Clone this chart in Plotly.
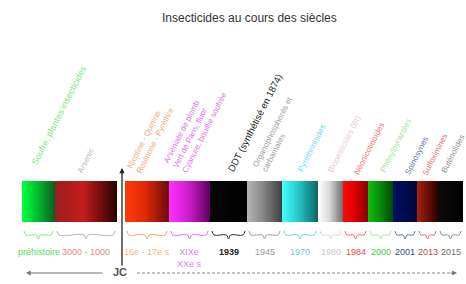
import numpy as np
import plotly.graph_objects as go

# ---------------- data ----------------
title = "Insecticides au cours des siècles"

seg_labels = [
    "Soufre, plantes insecticides",
    "Arsenic",
    "Nicotine - Quinine<br>Roténone - Pyrèthre",
    "Arséniate de plomb<br>Vert de Paris, fluor<br>Cyanure, bouillie soufrée",
    "DDT (synthétisé en 1874)",
    "Organophosphorés et<br>carbamates",
    "Pyréthrinoïdes",
    "Biopesticides (Bt)",
    "Néonicotinoïdes",
    "Phénylpyrazoles",
    "Spinosynes",
    "Sulfoximines",
    "Buténolides",
]
seg_years = [
    "préhistoire", "3000 - 1000", "16e - 17e s", "XIXe<br>XXe s", "<b>1939</b>",
    "1945", "1970", "1980", "1984", "2000", "2001", "2013", "2015",
]
seg_start = [22, 55, 125, 169, 210, 247, 282, 318, 343, 368, 393, 417, 438]
seg_end = [55, 117, 169, 210, 247, 282, 318, 343, 368, 393, 417, 438, 463]
color_from = ["#00ff3c", "#9a1e1e", "#ff3a08", "#ff30ff", "#080808", "#b4b4b4", "#40ffff",
              "#ffffff", "#ff0a0a", "#0cc00c", "#001064", "#a82214", "#0c0c0c"]
color_mid = ["#00c030", "#c41c1c", "#e02a08", "#d020d0", "#040404", "#888888", "#28c8c8",
             "#d8d8d8", "#e00000", "#089008", "#000c50", "#701208", "#060606"]
color_to = ["#0b5e1e", "#2b0202", "#6e0a0a", "#600060", "#000000", "#404040", "#0e6868",
            "#707070", "#8a0000", "#064806", "#000838", "#300000", "#000000"]
label_colors = ["#80e880", "#b8b8b8", "#f0a878", "#e070e8", "#222222", "#a0a0a0", "#70d8ea",
                "#e8cccc", "#f07070", "#a8e0a8", "#6070a0", "#e07070", "#909090"]
year_colors = ["#55dd55", "#e08888", "#f0b888", "#e080e8", "#222222", "#999999", "#66ccdd",
               "#c8c8c8", "#ee4444", "#44cc44", "#334488", "#b05050", "#707070"]

# layout helpers (annotation placement, in pixel-like chart units)
label_dx = [5, 18, -2, -10, 13, 1, 11, 5, 7, 8, 7, 1, -1]
label_bottom = [169, 177, 177, 177, 176, 176, 176, 177, 179, 177, 179, 179, 177]
label_size = [9, 8, 8, 8, 9.5, 8, 8, 8, 8, 8, 8, 8, 8]

BAR_TOP, BAR_BOT = 181, 222

fig = go.Figure()

# gradient segments
for i in range(len(seg_start)):
    n = 40
    xs = np.linspace(seg_start[i], seg_end[i], n + 1)
    z = [list(np.linspace(0, 1, n))]
    fig.add_trace(go.Heatmap(
        x=xs, y=[BAR_TOP, BAR_BOT], z=z, zmin=0, zmax=1,
        colorscale=[[0, color_from[i]], [0.45, color_mid[i]], [1, color_to[i]]],
        showscale=False, hoverinfo="skip"))

# braces under each segment
for i in range(len(seg_start)):
    a, b = seg_start[i] + 2, seg_end[i] - 2
    c = (a + b) / 2
    bx = [a, a + 2, c - 2, c, c + 2, b - 2, b]
    by = [231, 235, 235, 239, 235, 235, 231]
    fig.add_trace(go.Scatter(x=bx, y=by, mode="lines",
                             line=dict(color=label_colors[i] if i != 4 else "#333333", width=1, shape="spline"),
                             hoverinfo="skip", showlegend=False))

# bottom dashed time line (after JC)
fig.add_trace(go.Scatter(x=[137, 452], y=[273, 273], mode="lines",
                         line=dict(color="#888888", width=1.2, dash="3px,2px"),
                         hoverinfo="skip", showlegend=False))

annotations = []
annotations.append(dict(x=249, y=18, text=title, showarrow=False, xref="x", yref="y",
                        font=dict(size=12, color="#333333")))

for i in range(len(seg_start)):
    annotations.append(dict(
        x=seg_start[i] + label_dx[i], y=label_bottom[i], xref="x", yref="y", text=seg_labels[i],
        textangle=-63, xanchor="left", yanchor="bottom", align="left", showarrow=False,
        font=dict(size=label_size[i], color=label_colors[i])))
    annotations.append(dict(
        x=(seg_start[i] + seg_end[i]) / 2, y=245, xref="x", yref="y", text=seg_years[i],
        xanchor="center", yanchor="top", showarrow=False,
        font=dict(size=9, color=year_colors[i])))

# vertical arrow at JC
annotations.append(dict(x=122, y=168, ax=122, ay=267, xref="x", yref="y", axref="x", ayref="y",
                        text="", showarrow=True, arrowhead=2, arrowsize=0.8, arrowwidth=1.3,
                        arrowcolor="#222222"))
# left arrow (before JC)
annotations.append(dict(x=26, y=273, ax=104, ay=273, xref="x", yref="y", axref="x", ayref="y",
                        text="", showarrow=True, arrowhead=2, arrowsize=0.8, arrowwidth=1.2,
                        arrowcolor="#777777"))
# right arrow head
annotations.append(dict(x=457, y=273, ax=449, ay=273, xref="x", yref="y", axref="x", ayref="y",
                        text="", showarrow=True, arrowhead=2, arrowsize=0.8, arrowwidth=1.2,
                        arrowcolor="#777777"))
annotations.append(dict(x=120, y=272, xref="x", yref="y", text="<b>JC</b>", showarrow=False,
                        xanchor="center", yanchor="middle", font=dict(size=11, color="#555555")))

fig.update_layout(
    width=466, height=284, margin=dict(l=0, r=0, t=0, b=0),
    paper_bgcolor="white", plot_bgcolor="white",
    font=dict(family="Liberation Sans, Arial, sans-serif"),
    xaxis=dict(range=[0, 466], visible=False, fixedrange=True),
    yaxis=dict(range=[284, 0], visible=False, fixedrange=True),
    annotations=annotations, showlegend=False,
)

fig.write_html("out.html", config={"displayModeBar": False},
               post_script="document.body.style.margin='0';document.body.style.overflow='hidden';")
